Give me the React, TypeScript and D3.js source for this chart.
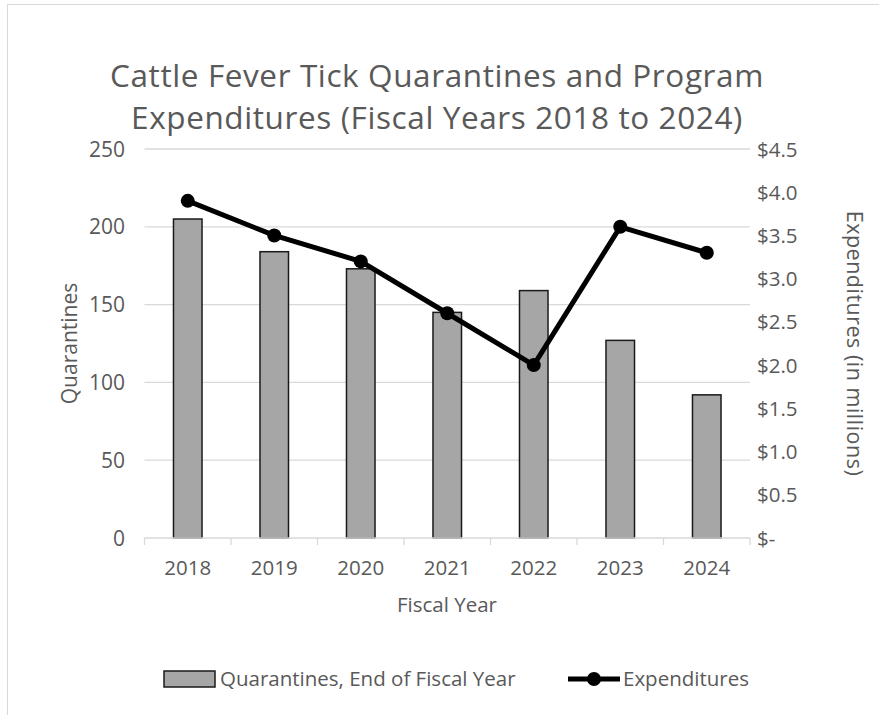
import * as d3 from "d3";

const years = ["2018", "2019", "2020", "2021", "2022", "2023", "2024"];
const quarantines = [205, 184, 173, 145, 159, 127, 92];
const expenditures = [3.9, 3.5, 3.2, 2.6, 2.0, 3.6, 3.3];
const leftTicks = [0, 50, 100, 150, 200, 250];
const rightTicks = [0, 0.5, 1, 1.5, 2, 2.5, 3, 3.5, 4, 4.5];
const titleLines = [
  "Cattle Fever Tick Quarantines and Program",
  "Expenditures (Fiscal Years 2018 to 2024)",
];

const FONT = "'Open Sans', sans-serif";
const TEXT = "#595959";
const GRID = "#d9d9d9";

export default function App() {
  const width = 879;
  const height = 715;
  const plot = { left: 144.5, right: 750, top: 149, bottom: 538 };

  const x = d3.scaleBand().domain(years).range([plot.left, plot.right]).paddingInner(0.67).paddingOuter(0.335);
  const xb = d3.scaleBand().domain(years).range([plot.left, plot.right]);
  const yL = d3.scaleLinear().domain([0, 250]).range([plot.bottom, plot.top]);
  const yR = d3.scaleLinear().domain([0, 4.5]).range([plot.bottom, plot.top]);

  const line = d3
    .line<number>()
    .x((_, i) => (xb(years[i]) as number) + xb.bandwidth() / 2)
    .y((d) => yR(d));

  const fmtR = (d: number) => (d === 0 ? "$-" : "$" + d.toFixed(1));

  return (
    <svg width={width} height={height} style={{ position: "absolute", left: 0, top: 0, background: "#fff" }}>
      {/* chart border */}
      <rect x={7.5} y={4.5} width={900} height={800} fill="#fff" stroke={GRID} strokeWidth={1} />

      {/* title */}
      {titleLines.map((t, i) => (
        <text
          key={i}
          x={437}
          y={87 + i * 42}
          fill={TEXT}
          fontFamily={FONT}
          fontSize={31.5}
          letterSpacing={0.6}
          textAnchor="middle"
        >
          {t}
        </text>
      ))}

      {/* gridlines */}
      {leftTicks.slice(1).map((t) => (
        <line key={t} x1={plot.left} x2={plot.right} y1={yL(t)} y2={yL(t)} stroke={GRID} strokeWidth={1.3} />
      ))}

      {/* bars */}
      {quarantines.map((q, i) => (
        <rect
          key={years[i]}
          x={x(years[i])}
          y={yL(q)}
          width={x.bandwidth()}
          height={plot.bottom - yL(q)}
          fill="#a6a6a6"
          stroke="#1a1a1a"
          strokeWidth={1.5}
        />
      ))}

      {/* x axis */}
      <line x1={plot.left} x2={plot.right} y1={plot.bottom} y2={plot.bottom} stroke={GRID} strokeWidth={1.3} />
      {years.map((y) => (
        <line key={"t" + y} x1={xb(y)} x2={xb(y)} y1={plot.bottom} y2={plot.bottom + 7} stroke={GRID} strokeWidth={1.3} />
      ))}
      <line x1={plot.right} x2={plot.right} y1={plot.bottom} y2={plot.bottom + 7} stroke={GRID} strokeWidth={1.3} />
      {years.map((y) => (
        <text
          key={"l" + y}
          x={(xb(y) as number) + xb.bandwidth() / 2}
          y={575}
          fill={TEXT}
          fontFamily={FONT}
          fontSize={20.5}
          textAnchor="middle"
        >
          {y}
        </text>
      ))}

      {/* left axis labels */}
      {leftTicks.map((t) => (
        <text key={"yl" + t} x={125} y={yL(t) + 7.5} fill={TEXT} fontFamily={FONT} fontSize={21} textAnchor="end">
          {t}
        </text>
      ))}

      {/* right axis labels */}
      {rightTicks.map((t) => (
        <text key={"yr" + t} x={757} y={yR(t) + 7.5} fill={TEXT} fontFamily={FONT} fontSize={20.5} textAnchor="start">
          {fmtR(t)}
        </text>
      ))}

      {/* axis titles */}
      <text x={447} y={612} fill={TEXT} fontFamily={FONT} fontSize={20.5} textAnchor="middle">
        Fiscal Year
      </text>
      <text
        transform={`translate(77, ${(plot.top + plot.bottom) / 2}) rotate(-90)`}
        fill={TEXT}
        fontFamily={FONT}
        fontSize={21}
        textAnchor="middle"
      >
        Quarantines
      </text>
      <text
        transform={`translate(847, ${(plot.top + plot.bottom) / 2}) rotate(90)`}
        fill={TEXT}
        fontFamily={FONT}
        fontSize={21.5}
        letterSpacing={0.5}
        textAnchor="middle"
      >
        Expenditures (in millions)
      </text>

      {/* expenditure line */}
      <path d={line(expenditures) ?? ""} fill="none" stroke="#000" strokeWidth={5} strokeLinejoin="round" />
      {expenditures.map((e, i) => (
        <circle key={"c" + i} cx={(xb(years[i]) as number) + xb.bandwidth() / 2} cy={yR(e)} r={7} fill="#000" />
      ))}

      {/* legend */}
      <rect x={164} y={671} width={51} height={16} fill="#a6a6a6" stroke="#1a1a1a" strokeWidth={1.5} />
      <text x={220} y={686} fill={TEXT} fontFamily={FONT} fontSize={20.5}>
        Quarantines, End of Fiscal Year
      </text>
      <line x1={568} x2={620} y1={679} y2={679} stroke="#000" strokeWidth={5} />
      <circle cx={594} cy={679} r={7} fill="#000" />
      <text x={623} y={686} fill={TEXT} fontFamily={FONT} fontSize={20.5}>
        Expenditures
      </text>
    </svg>
  );
}
